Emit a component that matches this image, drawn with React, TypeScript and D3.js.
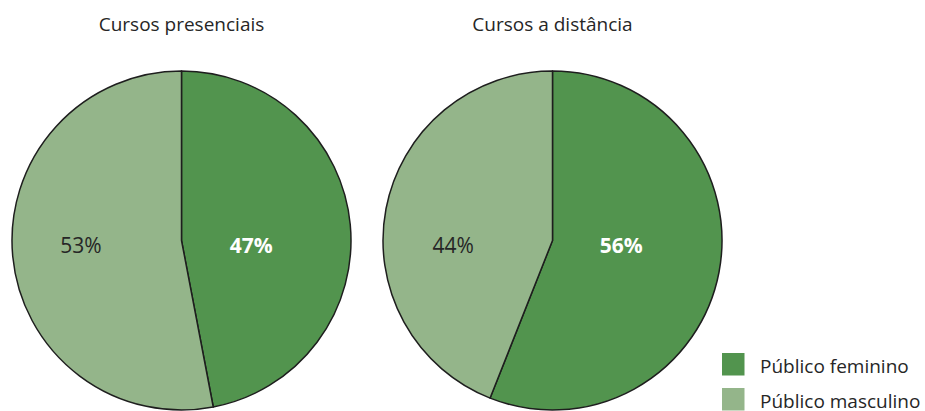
import React from "react";
import * as d3 from "d3";

const categories = ["Público feminino", "Público masculino"];
const chartTitles = ["Cursos presenciais", "Cursos a distância"];
const presenciais = [47, 53];
const distancia = [56, 44];
const colors = ["#52944e", "#94b58a"];

const W = 925;
const H = 411;
const R = 169.5;
const centers = [
  { cx: 181.5, cy: 240.5 },
  { cx: 552.5, cy: 240.5 },
];
const series = [presenciais, distancia];
const labelRadius = [70, 101];

export default function App() {
  const pie = d3
    .pie<number>()
    .sort(null)
    .value((d) => d);
  const arc = d3.arc<d3.PieArcDatum<number>>().innerRadius(0).outerRadius(R);
  const font = "'Open Sans', 'Noto Sans', sans-serif";

  return (
    <svg
      width={W}
      height={H}
      style={{ position: "absolute", left: 0, top: 0, background: "#fff" }}
      fontFamily={font}
    >
      {series.map((vals, si) => {
        const { cx, cy } = centers[si];
        const arcs = pie(vals);
        return (
          <g key={si}>
            <text
              x={cx}
              y={31}
              textAnchor="middle"
              fontSize={19}
              fill="#262626"
            >
              {chartTitles[si]}
            </text>
            <g transform={`translate(${cx},${cy})`}>
              {arcs.map((a, i) => (
                <path
                  key={i}
                  d={arc(a) || ""}
                  fill={colors[i]}
                  stroke="#1e1e1e"
                  strokeWidth={1.5}
                  strokeLinejoin="round"
                />
              ))}
              {arcs.map((a, i) => {
                const lab = d3
                  .arc<d3.PieArcDatum<number>>()
                  .innerRadius(labelRadius[i])
                  .outerRadius(labelRadius[i]);
                const [x] = lab.centroid(a);
                return (
                  <text
                    key={"l" + i}
                    x={x}
                    y={12.5}
                    textAnchor="middle"
                    fontSize={21}
                    fontWeight={i === 0 ? 700 : 400}
                    fill={i === 0 ? "#ffffff" : "#262626"}
                  >
                    {`${vals[i]}%`}
                  </text>
                );
              })}
            </g>
          </g>
        );
      })}
      {categories.map((c, i) => (
        <g key={c} transform={`translate(722,${353 + i * 35})`}>
          <rect width={22.5} height={22.5} fill={colors[i]} />
          <text x={38} y={20} fontSize={19} fill="#262626">
            {c}
          </text>
        </g>
      ))}
    </svg>
  );
}
